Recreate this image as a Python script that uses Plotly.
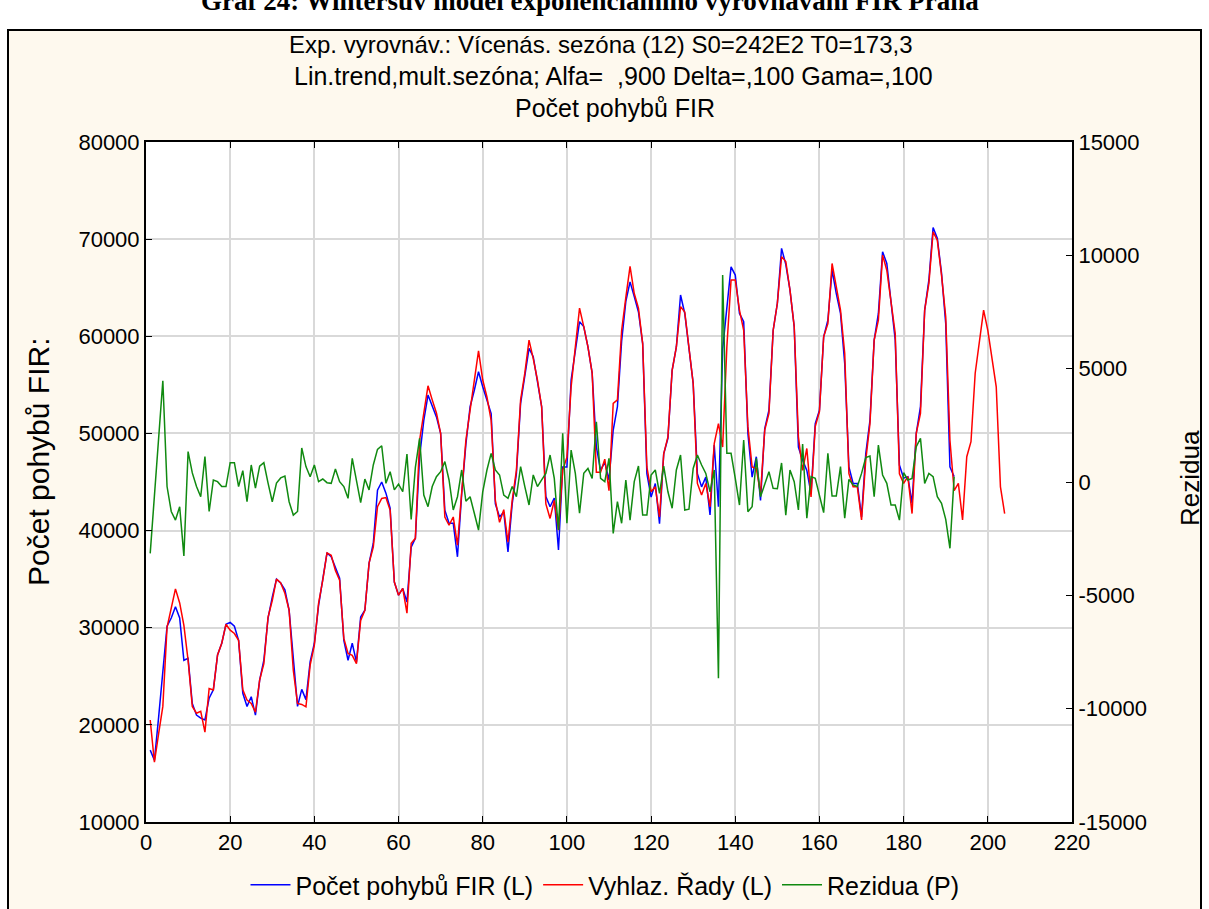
import plotly.graph_objects as go

# ---- data ----
actual = [17400, 16350, 20800, 25300, 30150, 31000, 32150, 31000, 26650, 26850, 22200, 21000,
          20700, 20500, 22750, 23600, 27200, 28400, 30350, 30550, 30150, 28700, 23250, 21900,
          22900, 21000, 24600, 26650, 31000, 33150, 35000, 34600, 33900, 31800, 26650, 21900,
          23650, 22600, 26500, 28400, 32300, 34900, 37700, 37300, 36250, 35100, 28700, 26650,
          28400, 26450, 31100, 31800, 36650, 38700, 44150, 45000, 43850, 42300, 34700, 33350,
          34050, 32650, 38300, 39200, 47600, 51350, 53950, 52750, 51700, 50000, 42100, 40750,
          40750, 37300, 43750, 48900, 52750, 54450, 56350, 54800, 53450, 52050, 42750, 41400,
          41900, 37800, 42750, 45850, 53100, 55850, 58750, 57900, 55500, 52750, 43500, 42450,
          43350, 38000, 46550, 46550, 55500, 58600, 61500, 61000, 58900, 56200, 48600, 46200,
          47050, 45200, 50350, 52750, 59500, 63600, 65600, 64100, 62500, 59250, 45850, 43450,
          44850, 40700, 47900, 49500, 56500, 58900, 64250, 62350, 58600, 55150, 45850, 44500,
          45500, 41600, 48800, 42450, 58700, 62700, 67150, 66300, 62350, 61500, 50000, 45500,
          47600, 43100, 50500, 52400, 60600, 63400, 69050, 67400, 64750, 61000, 48600, 47250,
          46200, 43800, 51000, 52400, 59950, 61650, 66800, 64400, 62350, 57200, 46550, 44850,
          44850, 41400, 47900, 51350, 59600, 62350, 68700, 67500, 63400, 59600, 46750, 45400,
          45550, 42800, 50000, 52750, 62700, 65800, 71200, 70100, 66500, 61300, 46550, 45550]

smoothed = [20500, 16150, 19100, 21900, 30050, 32150, 34000, 32550, 30250, 26650, 21900, 21200,
            21400, 19250, 23750, 23600, 27200, 28400, 30350, 29750, 29400, 28700, 23600, 22550,
            22200, 21300, 24600, 26300, 31100, 32800, 35000, 34600, 33550, 31800, 25600, 22200,
            22100, 21850, 26150, 28200, 32500, 34900, 37700, 37450, 35900, 34900, 28900, 27350,
            27150, 26300, 30750, 31800, 36650, 38300, 42450, 43300, 43400, 42100, 34700, 33350,
            34050, 31500, 38700, 39200, 49300, 52100, 54900, 53450, 52100, 50000, 41400, 40550,
            41400, 38500, 44300, 49300, 52400, 55500, 58500, 55500, 53750, 51350, 43100, 40850,
            42150, 38800, 43100, 46200, 53450, 56200, 59600, 57700, 55500, 52750, 42750, 41250,
            43100, 40050, 46200, 47550, 54800, 58900, 62900, 61000, 58900, 56200, 46000, 46000,
            47350, 44100, 53100, 53450, 60600, 64000, 67200, 64400, 62900, 59250, 46550, 44000,
            44500, 41400, 47900, 49650, 56500, 58900, 63050, 62500, 58900, 55150, 44850, 43650,
            44850, 42450, 48950, 51000, 48600, 58900, 65800, 65800, 62700, 60600, 50700, 46550,
            46400, 43800, 50350, 52050, 60600, 63400, 68200, 67700, 64750, 61000, 49650, 46200,
            48450, 43450, 50700, 52250, 59950, 61300, 67500, 65100, 62700, 58250, 45850, 44500,
            44500, 41100, 47250, 51000, 59600, 61650, 68350, 66800, 63400, 60300, 45850, 44850,
            45550, 41750, 50000, 52050, 62700, 65450, 70750, 69900, 66300, 62000, 49300, 44100,
            44850, 41100, 47600, 49150, 56200, 59250, 62700, 60600, 57900, 54800, 44500, 41750]

residuals = [-3150, -600, 1940, 4470, -200, -1300, -1680, -1090, -3260, 1340, 400, -200,
             -650, 1120, -1300, 90, 15, -200, -200, 850, 850, -200, 500, -870,
             750, -270, 700, 850, -50, -870, -50, 180, 260, -870, -1460, -1300,
             1500, 680, 235, 750, 15, 130, -30, -60, 570, 15, -200, -720,
             1045, 15, -910, 130, -350, 750, 1440, 1600, -60, 455, -350, -90,
             -430, 1235, -1650, 645, 1925, -575, -1090, -200, 235, 455, 900, 90,
             -1235, -650, 530, -850, -650, -1380, -2120, -430, 530, 1265, 530, 310,
             -575, -720, -200, -650, 680, -200, -1015, 310, -200, 90, 380, 1190,
             160, -2120, 2150, -1820, 1410, 380, -1380, 380, 600, 160, 2660, 160,
             15, 1045, -2265, -870, -1820, 90, -1680, 15, 705, -1460, -1460, 310,
             530, -500, 705, -430, -1160, 530, 1190, -1235, -1200, 600, 1190, 750,
             380, -430, 530, -8660, 9130, 1265, 1265, 160, -1015, 1850, -1310, -1090,
             1045, -650, -60, 455, -280, -300, 840, -1460, 530, 15, -1235, 1675,
             -1600, 235, 160, -650, -1350, 1265, -620, -620, 680, -1600, 115, -130,
             -200, 380, 1075, 1145, -650, 1630, 310, -60, -1015, -1015, -1680, 410,
             90, 160, 1560, 1925, -60, 380, 235, -650, -940, -1650, -2925, 235]

x_actual = list(range(1, len(actual) + 1))
x_smoothed = list(range(1, len(smoothed) + 1))
x_resid = list(range(1, len(residuals) + 1))

series_names = ["Počet pohybů FIR (L)", "Vyhlaz. Řady (L)", "Rezidua (P)"]
x_ticks = list(range(0, 221, 20))
y_ticks = list(range(10000, 80001, 10000))
y2_ticks = list(range(-15000, 15001, 5000))
y_ticktext = [str(v) for v in y_ticks]
y2_ticktext = [str(v) for v in y2_ticks]

FONT = "Liberation Sans, Arial, sans-serif"
CREAM = "#FEF9EE"

fig = go.Figure()
fig.add_trace(go.Scatter(x=x_actual, y=actual, mode="lines", name=series_names[0],
                         line=dict(color="#0000FF", width=1.5)))
fig.add_trace(go.Scatter(x=x_smoothed, y=smoothed, mode="lines", name=series_names[1],
                         line=dict(color="#FF0000", width=1.5)))
fig.add_trace(go.Scatter(x=x_resid, y=residuals, mode="lines", name=series_names[2],
                         line=dict(color="#108A10", width=1.5), yaxis="y2"))

W, H = 1209, 909
L, R, T, B = 146, 1072, 142, 822
pw, ph = R - L, B - T

def px(x):
    return (x - L) / pw

def py(y):
    return (B - y) / ph

shapes = [
    dict(type="rect", xref="paper", yref="paper", x0=px(8), x1=px(1201), y0=py(925), y1=py(30),
         fillcolor=CREAM, line=dict(color="black", width=2), layer="below"),
    dict(type="rect", xref="paper", yref="paper", x0=0, x1=1, y0=0, y1=1,
         fillcolor="white", line=dict(width=0), layer="below"),
]

annotations = [
    dict(text="<b>Graf 24: Wintersův model exponenciálního vyrovnávání FIR Praha</b>",
         x=px(590), y=py(1), xref="paper", yref="paper", showarrow=False,
         font=dict(family="Liberation Serif, Times New Roman, serif", size=27, color="black"),
         xanchor="center", yanchor="middle"),
    dict(text="Exp. vyrovnáv.: Vícenás. sezóna (12) S0=242E2 T0=173,3",
         x=px(601), y=py(44), xref="paper", yref="paper", showarrow=False,
         font=dict(family=FONT, size=24, color="black"), xanchor="center", yanchor="middle"),
    dict(text="Lin.trend,mult.sezóna; Alfa=\u00a0 ,900 Delta=,100 Gama=,100",
         x=px(613), y=py(76), xref="paper", yref="paper", showarrow=False,
         font=dict(family=FONT, size=25, color="black"), xanchor="center", yanchor="middle"),
    dict(text="Počet pohybů FIR",
         x=px(615), y=py(108), xref="paper", yref="paper", showarrow=False,
         font=dict(family=FONT, size=25, color="black"), xanchor="center", yanchor="middle"),
    dict(text="Počet pohybů FIR:", x=px(38), y=py(462), xref="paper", yref="paper",
         showarrow=False, textangle=-90, font=dict(family=FONT, size=30, color="black"),
         xanchor="center", yanchor="middle"),
    dict(text="Rezidua", x=px(1190), y=py(478), xref="paper", yref="paper",
         showarrow=False, textangle=-90, font=dict(family=FONT, size=26, color="black"),
         xanchor="center", yanchor="middle"),
]

fig.update_layout(
    width=W, height=H,
    margin=dict(l=L, r=W - R, t=T, b=H - B, pad=0, autoexpand=False),
    paper_bgcolor="white",
    plot_bgcolor="white",
    font=dict(family=FONT, size=22, color="black"),
    showlegend=True,
    legend=dict(orientation="h", x=px(605), xanchor="center", y=py(885), yanchor="middle",
                bgcolor="rgba(0,0,0,0)", font=dict(family=FONT, size=25), itemwidth=40,
                tracegroupgap=0),
    xaxis=dict(range=[0, 220], tickvals=x_ticks, showgrid=True, gridcolor="#D9D9D9",
               gridwidth=1.5, zeroline=False, showline=True, linecolor="black", linewidth=2,
               mirror="ticks", ticks="inside", ticklen=6, tickcolor="black",
               tickfont=dict(family=FONT, size=22)),
    yaxis=dict(range=[10000, 80000], tickvals=y_ticks, ticktext=y_ticktext, showgrid=True,
               gridcolor="#D9D9D9", gridwidth=1.5, zeroline=False, showline=True,
               linecolor="black", linewidth=2, ticks="inside", ticklen=6, tickcolor="black",
               tickfont=dict(family=FONT, size=22)),
    yaxis2=dict(range=[-15000, 15000], tickvals=y2_ticks, ticktext=y2_ticktext, overlaying="y",
                side="right", showgrid=False, zeroline=False, showline=True, linecolor="black",
                linewidth=2, ticks="inside", ticklen=6, tickcolor="black",
                tickfont=dict(family=FONT, size=22)),
    shapes=shapes,
    annotations=annotations,
)

fig.write_html("out.html",
               config={"displayModeBar": False},
               post_script="document.body.style.margin='0';document.body.style.overflow='hidden';")
